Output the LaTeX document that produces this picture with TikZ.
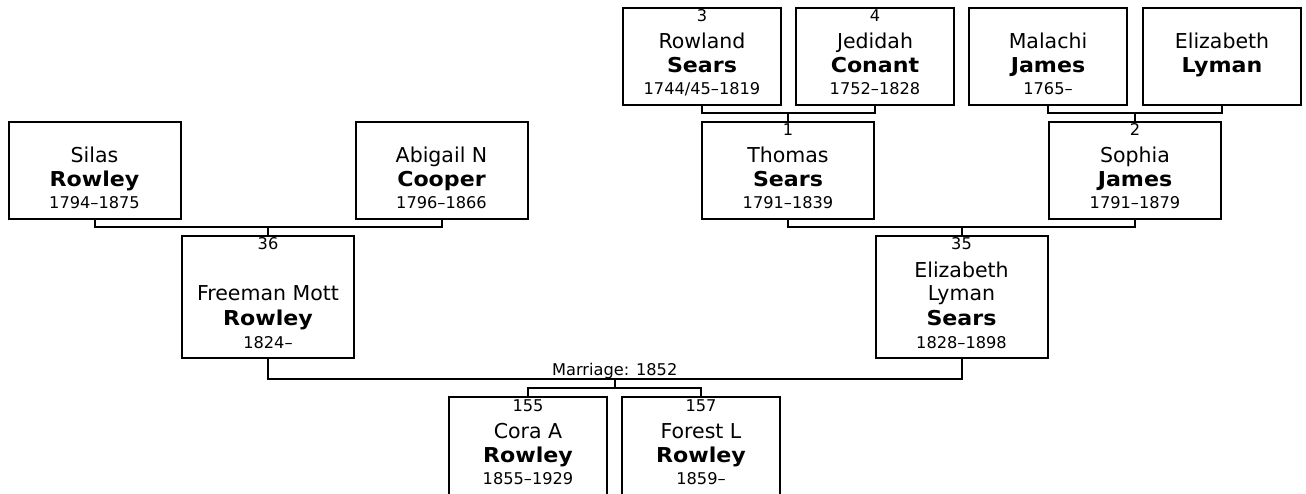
\documentclass[tikz,border=0pt]{standalone}
\usepackage{fontspec}
\setmainfont{DejaVu Sans}[BoldFeatures={FakeStretch=1.08}]
\usetikzlibrary{calc}
\begin{document}
\begin{tikzpicture}[x=1pt,y=-1pt,
  box/.style={draw=black, line width=2pt, rectangle, inner sep=0pt, outer sep=0pt, anchor=north},
  wbox/.style={box, minimum width=172pt},
  nbox/.style={box, minimum width=158pt},
  conn/.style={draw=black, line width=2pt},
  nm/.style={anchor=base, inner sep=0pt, font=\fontsize{20.5}{24}\selectfont},
  sn/.style={anchor=base, inner sep=0pt, font=\fontsize{20.5}{24}\selectfont\bfseries},
  sm/.style={anchor=base, inner sep=0pt, font=\fontsize{16.2}{19}\selectfont}]
\useasboundingbox (0,0) rectangle (1306,494);
\clip (0,0) rectangle (1306,494);

% ---------- row 0 ----------
\node[nbox, minimum height=97pt] (rowland) at (702,8) {};
\node[nbox, minimum height=97pt] (jedidah) at (875,8) {};
\node[nbox, minimum height=97pt] (malachi) at (1048,8) {};
\node[nbox, minimum height=97pt] (elyman) at (1222,8) {};
\node[sm] (rowland-no) at (702,22) {3};
\node[nm] (rowland-n) at (702,49) {Rowland};
\node[sn] (rowland-s) at (702,73) {Sears};
\node[sm] (rowland-d) at (702,95) {1744/45–1819};
\node[sm] (jedidah-no) at (875,22) {4};
\node[nm] (jedidah-n) at (875,49) {Jedidah};
\node[sn] (jedidah-s) at (875,73) {Conant};
\node[sm] (jedidah-d) at (875,95) {1752–1828};
\node[nm] (malachi-n) at (1048,49) {Malachi};
\node[sn] (malachi-s) at (1048,73) {James};
\node[sm] (malachi-d) at (1048,95) {1765–};
\node[nm] (elyman-n) at (1222,49) {Elizabeth};
\node[sn] (elyman-s) at (1222,73) {Lyman};

% ---------- row 1 ----------
\node[wbox, minimum height=97pt] (silas) at (94.5,122) {};
\node[wbox, minimum height=97pt] (abigail) at (441.5,122) {};
\node[wbox, minimum height=97pt] (thomas) at (788,122) {};
\node[wbox, minimum height=97pt] (sophia) at (1135,122) {};
\node[nm] (silas-n) at (94.5,163) {Silas};
\node[sn] (silas-s) at (94.5,187) {Rowley};
\node[sm] (silas-d) at (94.5,209) {1794–1875};
\node[nm] (abigail-n) at (441.5,163) {Abigail N};
\node[sn] (abigail-s) at (441.5,187) {Cooper};
\node[sm] (abigail-d) at (441.5,209) {1796–1866};
\node[sm] (thomas-no) at (788,136) {1};
\node[nm] (thomas-n) at (788,163) {Thomas};
\node[sn] (thomas-s) at (788,187) {Sears};
\node[sm] (thomas-d) at (788,209) {1791–1839};
\node[sm] (sophia-no) at (1135,136) {2};
\node[nm] (sophia-n) at (1135,163) {Sophia};
\node[sn] (sophia-s) at (1135,187) {James};
\node[sm] (sophia-d) at (1135,209) {1791–1879};

% ---------- row 2 ----------
\node[wbox, minimum height=122pt] (freeman) at (268,236) {};
\node[wbox, minimum height=122pt] (elsears) at (961.5,236) {};
\node[sm] (freeman-no) at (268,250) {36};
\node[nm] (freeman-n) at (268,301) {Freeman Mott};
\node[sn] (freeman-s) at (268,325) {Rowley};
\node[sm] (freeman-d) at (268,348) {1824–};
\node[sm] (elsears-no) at (961.5,250) {35};
\node[nm] (elsears-n1) at (961.5,277) {Elizabeth};
\node[nm] (elsears-n2) at (961.5,301) {Lyman};
\node[sn] (elsears-s) at (961.5,325) {Sears};
\node[sm] (elsears-d) at (961.5,348) {1828–1898};

% ---------- row 3 ----------
\node[nbox, minimum height=150pt] (cora) at (528,397) {};
\node[nbox, minimum height=150pt] (forest) at (701,397) {};
\node[sm] (cora-no) at (528,411) {155};
\node[nm] (cora-n) at (528,438) {Cora A};
\node[sn] (cora-s) at (528,462) {Rowley};
\node[sm] (cora-d) at (528,484) {1855–1929};
\node[sm] (forest-no) at (701,411) {157};
\node[nm] (forest-n) at (701,438) {Forest L};
\node[sn] (forest-s) at (701,462) {Rowley};
\node[sm] (forest-d) at (701,484) {1859–};

% ---------- connectors ----------
\draw[conn] (rowland.south) -- ++(0,8) coordinate (c1) -| (jedidah.south);
\draw[conn] (thomas.north) -- (thomas.north |- c1);
\draw[conn] (malachi.south) -- ++(0,8) coordinate (c2) -| (elyman.south);
\draw[conn] (sophia.north) -- (sophia.north |- c2);
\draw[conn] (silas.south) -- ++(0,8) coordinate (c3) -| (abigail.south);
\draw[conn] (freeman.north) -- (freeman.north |- c3);
\draw[conn] (thomas.south) -- ++(0,8) coordinate (c4) -| (sophia.south);
\draw[conn] (elsears.north) -- (elsears.north |- c4);
\draw[conn] (freeman.south) -- ++(0,21) coordinate (ml) -| (elsears.south);
\coordinate (m) at ($(ml)!0.5!(ml -| elsears.south)$);
\node[sm] (mlabel) at ($(m)+(0,-4)$) {Marriage: 1852};
\draw[conn] (m) -- ++(0,9) coordinate (kc);
\draw[conn] (cora.north) -- (cora.north |- kc) -- (forest.north |- kc) -- (forest.north);
\end{tikzpicture}
\end{document}
